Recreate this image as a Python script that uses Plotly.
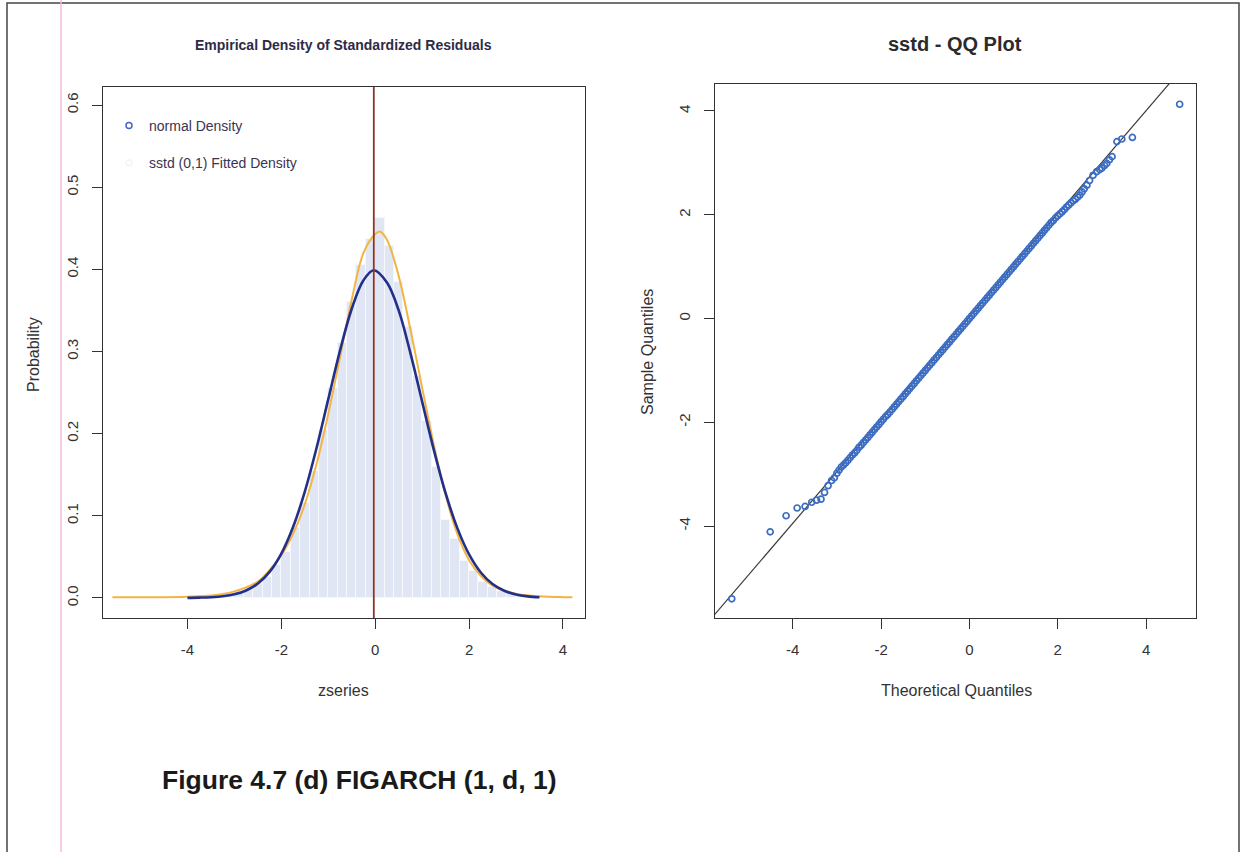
import plotly.graph_objects as go

# ---------------- data ----------------
# histogram of standardized residuals (bin centres, width 0.2)
hist_centers = [-3.9, -3.7, -3.5, -3.3, -3.1, -2.9, -2.7, -2.5, -2.3, -2.1,
                -1.9, -1.7, -1.5, -1.3, -1.1, -0.9, -0.7, -0.5, -0.3, -0.1,
                0.1, 0.3, 0.5, 0.7, 0.9, 1.1, 1.3, 1.5, 1.7, 1.9,
                2.1, 2.3, 2.5, 2.7, 2.9, 3.1, 3.3, 3.5, 3.7, 3.9]
hist_density = [0.001, 0.001, 0.002, 0.003, 0.005, 0.008, 0.012, 0.018, 0.026, 0.040,
                0.056, 0.085, 0.115, 0.155, 0.205, 0.255, 0.310, 0.360, 0.405, 0.437,
                0.462, 0.428, 0.385, 0.330, 0.270, 0.215, 0.160, 0.095, 0.072, 0.045,
                0.033, 0.020, 0.013, 0.008, 0.005, 0.003, 0.002, 0.001, 0.001, 0.0005]

# normal density curve
norm_x = [-4.0, -3.75, -3.5, -3.25, -3.0, -2.75, -2.5, -2.25, -2.0, -1.75, -1.5, -1.25,
          -1.0, -0.75, -0.5, -0.25, -0.03, 0.25, 0.5, 0.75, 1.0, 1.25, 1.5, 1.75,
          2.0, 2.25, 2.5, 2.75, 3.0, 3.25, 3.5]
norm_y = [0.0001, 0.0004, 0.0009, 0.0020, 0.0044, 0.0091, 0.0175, 0.0317, 0.0540, 0.0863,
          0.1295, 0.1826, 0.2420, 0.3011, 0.3521, 0.3867, 0.3989, 0.3840, 0.3500, 0.2980,
          0.2390, 0.1800, 0.1275, 0.0850, 0.0530, 0.0310, 0.0170, 0.0088, 0.0042, 0.0019, 0.0008]

# sstd(0,1) fitted density curve
sstd_x = [-5.6, -5.0, -4.5, -4.0, -3.5, -3.0, -2.5, -2.25, -2.0, -1.75, -1.5, -1.25,
          -1.0, -0.75, -0.5, -0.25, 0.0, 0.1, 0.25, 0.5, 0.75, 1.0, 1.25, 1.5,
          1.75, 2.0, 2.25, 2.5, 3.0, 3.5, 4.0, 4.2]
sstd_y = [0.001, 0.001, 0.001, 0.0015, 0.003, 0.008, 0.020, 0.034, 0.052, 0.078, 0.114, 0.163,
          0.224, 0.293, 0.363, 0.420, 0.443, 0.446, 0.436, 0.392, 0.327, 0.256, 0.186, 0.125,
          0.078, 0.046, 0.027, 0.015, 0.005, 0.002, 0.001, 0.001]

resid_mean = -0.03

# QQ plot: theoretical vs sample quantiles
qq_theo = [-5.38, -4.51, -4.15, -3.90, -3.72, -3.57, -3.46, -3.36, -3.28, -3.20, -3.12, -3.06,
           -3.00, -2.95, -2.90, -2.85, -2.80, -2.75, -2.70, -2.65, -2.60,
           -2.55, -2.50, -2.45, -2.40, -2.35, -2.30, -2.25, -2.20, -2.15, -2.10,
           -2.05, -2.00, -1.95, -1.90, -1.85, -1.80, -1.75, -1.70, -1.65, -1.60,
           -1.55, -1.50, -1.45, -1.40, -1.35, -1.30, -1.25, -1.20, -1.15, -1.10,
           -1.05, -1.00, -0.95, -0.90, -0.85, -0.80, -0.75, -0.70, -0.65, -0.60,
           -0.55, -0.50, -0.45, -0.40, -0.35, -0.30, -0.25, -0.20, -0.15, -0.10,
           -0.05, 0.00, 0.05, 0.10, 0.15, 0.20, 0.25, 0.30, 0.35, 0.40,
           0.45, 0.50, 0.55, 0.60, 0.65, 0.70, 0.75, 0.80, 0.85, 0.90,
           0.95, 1.00, 1.05, 1.10, 1.15, 1.20, 1.25, 1.30, 1.35, 1.40,
           1.45, 1.50, 1.55, 1.60, 1.65, 1.70, 1.75, 1.80, 1.85, 1.90, 1.95,
           2.00, 2.05, 2.10, 2.15, 2.20, 2.25, 2.30, 2.35, 2.40, 2.45, 2.50,
           2.55, 2.60, 2.66, 2.72, 2.80, 2.88, 2.95, 3.00, 3.06, 3.11, 3.17,
           3.23, 3.34, 3.45, 3.69, 4.76]
qq_sample = [-5.40, -4.11, -3.80, -3.65, -3.62, -3.54, -3.50, -3.48, -3.35, -3.22, -3.12, -3.07,
             -2.98, -2.92, -2.86, -2.82, -2.78, -2.73, -2.68, -2.63, -2.59,
             -2.54, -2.48, -2.44, -2.39, -2.34, -2.29, -2.24, -2.19, -2.14, -2.09,
             -2.04, -1.99, -1.94, -1.89, -1.85, -1.80, -1.75, -1.70, -1.65, -1.60,
             -1.55, -1.50, -1.45, -1.40, -1.35, -1.30, -1.25, -1.20, -1.15, -1.10,
             -1.05, -1.00, -0.95, -0.90, -0.85, -0.80, -0.75, -0.70, -0.65, -0.60,
             -0.55, -0.50, -0.45, -0.40, -0.35, -0.30, -0.25, -0.20, -0.15, -0.10,
             -0.05, 0.00, 0.05, 0.10, 0.15, 0.20, 0.25, 0.30, 0.35, 0.40,
             0.45, 0.50, 0.55, 0.60, 0.65, 0.70, 0.75, 0.80, 0.85, 0.90,
             0.95, 1.00, 1.05, 1.10, 1.15, 1.20, 1.25, 1.30, 1.35, 1.40,
             1.45, 1.50, 1.55, 1.60, 1.65, 1.70, 1.75, 1.80, 1.85, 1.89, 1.94,
             1.98, 2.02, 2.06, 2.10, 2.15, 2.19, 2.23, 2.27, 2.30, 2.34, 2.38,
             2.44, 2.50, 2.57, 2.66, 2.76, 2.83, 2.87, 2.90, 2.95, 2.99, 3.06,
             3.12, 3.41, 3.46, 3.49, 4.13]
qq_slope = 0.994
qq_intercept = 0.03
qq_line_x = [-7.0, 7.0]

x_ticks = [-4, -2, 0, 2, 4]
x_ticktext = ["-4", "-2", "0", "2", "4"]
dens_ticks = [0.0, 0.1, 0.2, 0.3, 0.4, 0.5, 0.6]
dens_ticktext = ["0.0", "0.1", "0.2", "0.3", "0.4", "0.5", "0.6"]
qq_yticks = [-4, -2, 0, 2, 4]
qq_yticktext = ["-4", "-2", "0", "2", "4"]

# ---------------- figure ----------------
FONT = "Liberation Sans, Arial, sans-serif"
W, H = 1243, 852

def px(x):
    return x / W

def py(y):
    return 1 - y / H

fig = go.Figure()

# histogram
fig.add_trace(go.Bar(x=hist_centers, y=hist_density, width=0.2,
                     marker=dict(color="#e1e6f5", line=dict(color="#f7f8fc", width=1)),
                     showlegend=False, xaxis="x", yaxis="y"))
# sstd fitted density
fig.add_trace(go.Scatter(x=sstd_x, y=sstd_y, mode="lines", line=dict(color="#f2b544", width=2, shape="spline"),
                         showlegend=False, xaxis="x", yaxis="y"))
# normal density
fig.add_trace(go.Scatter(x=norm_x, y=norm_y, mode="lines", line=dict(color="#22308a", width=2.6, shape="spline"),
                         showlegend=False, xaxis="x", yaxis="y"))
# legend entries
fig.add_trace(go.Scatter(x=[None], y=[None], mode="markers", name="normal Density",
                         marker=dict(symbol="circle-open", size=6, color="#4a62c8", line=dict(width=1.5)),
                         legendgroup="a", xaxis="x", yaxis="y"))
fig.add_trace(go.Scatter(x=[None], y=[None], mode="markers", name="sstd (0,1) Fitted Density",
                         marker=dict(symbol="circle-open", size=6, color="#eeeef4", line=dict(width=1)),
                         legendgroup="b", xaxis="x", yaxis="y"))

# QQ reference line
fig.add_trace(go.Scatter(x=qq_line_x, y=[qq_intercept + qq_slope * v for v in qq_line_x], mode="lines",
                         line=dict(color="#3a3a3a", width=1.2), showlegend=False, xaxis="x2", yaxis="y2"))
# QQ points
fig.add_trace(go.Scatter(x=qq_theo, y=qq_sample, mode="markers",
                         marker=dict(symbol="circle-open", size=6, color="#3b6cc2", line=dict(width=1.7)),
                         showlegend=False, xaxis="x2", yaxis="y2"))

axis_common = dict(showline=True, mirror=True, linecolor="#333333", linewidth=1.2,
                   ticks="outside", ticklen=10, tickcolor="#333333", showgrid=False, zeroline=False,
                   tickfont=dict(family=FONT, size=15, color="#333333"))

fig.update_layout(
    width=W, height=H, margin=dict(l=0, r=0, t=0, b=0),
    paper_bgcolor="white", plot_bgcolor="white", bargap=0,
    font=dict(family=FONT, color="#333333"),
    xaxis=dict(domain=[px(103), px(585)], range=[-5.80, 4.47], tickvals=x_ticks, ticktext=x_ticktext,
               anchor="y", ticklabelstandoff=8, **axis_common),
    yaxis=dict(domain=[py(618), py(87)], range=[-0.0244, 0.622],
               tickvals=dens_ticks, ticktext=dens_ticktext,
               tickangle=-90, anchor="x", ticklabelstandoff=8, **axis_common),
    xaxis2=dict(domain=[px(715), px(1196)], range=[-5.76, 5.13], tickvals=x_ticks, ticktext=x_ticktext,
                anchor="y2", ticklabelstandoff=8, **axis_common),
    yaxis2=dict(domain=[py(618), py(84)], range=[-5.77, 4.52], tickvals=qq_yticks, ticktext=qq_yticktext,
                tickangle=-90, anchor="x2", ticklabelstandoff=8, **axis_common),
    legend=dict(x=px(109), y=py(110), xanchor="left", yanchor="top", bgcolor="rgba(0,0,0,0)",
                font=dict(family=FONT, size=14, color="#3a3452"), tracegroupgap=16, itemwidth=30),
    showlegend=True,
)

shapes = [
    dict(type="line", xref="x", yref="paper", x0=resid_mean, x1=resid_mean, y0=py(618), y1=py(87),
         line=dict(color="#8c3526", width=1.8)),
    dict(type="rect", xref="paper", yref="paper", x0=px(7), x1=px(1239), y0=py(853), y1=py(3),
         line=dict(color="#444444", width=1.5)),
    dict(type="line", xref="paper", yref="paper", x0=px(61), x1=px(61), y0=0, y1=1,
         line=dict(color="#f3bcdc", width=1.5)),
]
fig.update_layout(shapes=shapes)

annotations = [
    dict(text="<b>Empirical Density of Standardized Residuals</b>", x=px(343), y=py(45),
         font=dict(family=FONT, size=14, color="#2e2a48")),
    dict(text="<b>sstd - QQ Plot</b>", x=px(955), y=py(44),
         font=dict(family=FONT, size=20, color="#2b2b2b")),
    dict(text="Probability", x=px(33), y=py(355), textangle=-90,
         font=dict(family=FONT, size=16, color="#333333")),
    dict(text="zseries", x=px(343), y=py(690), font=dict(family=FONT, size=16, color="#333333")),
    dict(text="Sample Quantiles", x=px(647), y=py(352), textangle=-90,
         font=dict(family=FONT, size=16, color="#333333")),
    dict(text="Theoretical Quantiles", x=px(956), y=py(690),
         font=dict(family=FONT, size=16, color="#333333")),
    dict(text="<b>Figure 4.7 (d) FIGARCH (1, d, 1)</b>", x=px(160), y=py(780), xanchor="left",
         font=dict(family=FONT, size=26.5, color="#1a1a1a")),
]
for a in annotations:
    a.setdefault("xanchor", "center")
    a.update(xref="paper", yref="paper", yanchor="middle", showarrow=False)
fig.update_layout(annotations=annotations)

fig.write_html("out.html")
